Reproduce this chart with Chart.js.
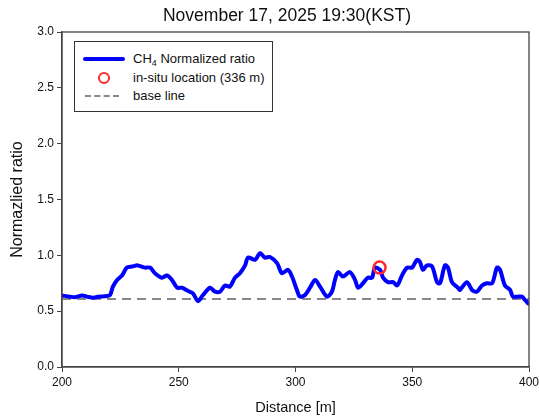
<!DOCTYPE html>
<html>
<head>
<meta charset="utf-8">
<script src="https://cdn.jsdelivr.net/npm/chart.js@4/dist/chart.umd.min.js"></script>
<style>
  body { margin: 0; background: #fff; }
  #wrap { position: relative; width: 539px; height: 418px; font-family: 'Liberation Sans', Arial, sans-serif; overflow: hidden; }
  #title {
    position: absolute; left: 0; top: 5px; width: 574px; height: 20px; line-height: 20px;
    text-align: center; font-size: 17.5px; color: #111; white-space: nowrap;
  }
  #legend {
    position: absolute; left: 74px; top: 41px; width: 197px; height: 69px;
    border: 1.5px solid #333; background: #fff; font-size: 13px; color: #111;
  }
  .row { position: absolute; left: 0; height: 18px; line-height: 18px; }
  .row .txt { position: absolute; left: 58px; white-space: nowrap; }
  .row sub { font-size: 9px; vertical-align: -3px; line-height: 0; }
  .sample { position: absolute; }
</style>
</head>
<body>
<div id="wrap">
  <canvas id="chart" width="539" height="418"></canvas>
  <div id="title">November 17, 2025 19:30(KST)</div>
  <div id="legend">
    <div class="row" style="top:8px">
      <div class="sample" style="left:8px; top:7px; width:42px; height:4px; background:#0000ff; border-radius:2px"></div>
      <span class="txt">CH<sub>4</sub> Normalized ratio</span>
    </div>
    <div class="row" style="top:27px">
      <div class="sample" style="left:23px; top:3px; width:8px; height:8px; border:2.5px solid #ff2a2a; border-radius:50%"></div>
      <span class="txt">in-situ location (336 m)</span>
    </div>
    <div class="row" style="top:45px">
      <div class="sample" style="left:10px; top:8px; width:34px; height:0; border-top:2px dashed #888"></div>
      <span class="txt">base line</span>
    </div>
  </div>
</div>
<script>
// distance along the path [m]
const distance = [
  200, 203.4, 205.6, 208.6, 210.7, 213.3, 215.4, 219.3, 220.6, 221.8,
  223.6, 225.7, 227.8, 230.0, 232.5, 235.5, 237.7, 239.8, 242.8, 245.0,
  247.1, 249.3, 251.4, 254.0, 256.1, 258.2, 260.4, 263.4, 265.5, 267.7,
  269.8, 271.9, 274.1, 276.2, 278.4, 279.7, 282.7, 284.8, 286.9, 289.1,
  292.1, 294.2, 296.8, 298.5, 300.6, 301.9, 304.1, 306.2, 308.4, 310.5,
  313.5, 315.6, 316.9, 318.2, 320.3, 323.3, 325.5, 326.8, 328.9, 331.0,
  332.8, 334.0, 336.2, 337.5, 339.6, 341.8, 343.5, 345.6, 347.8, 349.9,
  352.0, 353.3, 354.6, 356.3, 358.5, 360.6, 361.9, 364.0, 365.3, 367.0,
  369.6, 370.4, 373.4, 375.6, 377.7, 379.9, 382.0, 384.2, 386.3, 387.6,
  389.7, 391.9, 393.1, 394.9, 397.0, 398.3, 399.6
];
// CH4 normalized ratio
const ratio = [
  0.64, 0.63, 0.625, 0.64, 0.63, 0.62, 0.63, 0.635, 0.645, 0.72,
  0.78, 0.82, 0.89, 0.90, 0.91, 0.89, 0.89, 0.84, 0.80, 0.82,
  0.78, 0.71, 0.71, 0.68, 0.66, 0.59, 0.645, 0.71, 0.675, 0.675,
  0.73, 0.72, 0.80, 0.84, 0.91, 0.98, 0.96, 1.02, 0.98, 0.985,
  0.93, 0.84, 0.87, 0.81, 0.69, 0.63, 0.645, 0.71, 0.78, 0.72,
  0.63, 0.675, 0.78, 0.85, 0.81, 0.85, 0.78, 0.71, 0.75, 0.80,
  0.80, 0.89, 0.87, 0.80, 0.76, 0.76, 0.73, 0.82, 0.89, 0.89,
  0.96, 0.94, 0.87, 0.91, 0.90, 0.76, 0.75, 0.91, 0.89, 0.76,
  0.71, 0.69, 0.76, 0.69, 0.675, 0.73, 0.75, 0.75, 0.89, 0.87,
  0.73, 0.69, 0.63, 0.63, 0.63, 0.60, 0.57
];
const baseX = [200, 400];
const baseValue = 0.61;
const insituX = [336];
const insituY = [0.89];
const yTicks = [0, 0.5, 1.0, 1.5, 2.0, 2.5, 3.0];
const xTicks = [200, 250, 300, 350, 400];

const FONT = "'Liberation Sans', Arial, sans-serif";

// box around the plot area
const frame = {
  id: 'frame',
  afterDraw(chart) {
    const { ctx, chartArea: a } = chart;
    ctx.save();
    ctx.strokeStyle = '#444';
    ctx.lineWidth = 1.3;
    ctx.strokeRect(a.left, a.top, a.right - a.left, a.bottom - a.top);
    ctx.restore();
  }
};

new Chart(document.getElementById('chart'), {
  type: 'line',
  data: {
    datasets: [
      {
        label: 'in-situ location (336 m)',
        data: insituX.map((x, i) => ({ x, y: insituY[i] })),
        showLine: false,
        pointRadius: 6,
        pointBorderWidth: 2.5,
        pointBorderColor: '#ff2a2a',
        pointBackgroundColor: 'rgba(0,0,0,0)',
        order: 0
      },
      {
        label: 'CH4 Normalized ratio',
        data: distance.map((x, i) => ({ x, y: ratio[i] })),
        borderColor: '#0000ff',
        borderWidth: 4,
        pointRadius: 0,
        tension: 0.3,
        borderCapStyle: 'round',
        borderJoinStyle: 'round',
        order: 1
      },
      {
        label: 'base line',
        data: baseX.map(x => ({ x, y: baseValue })),
        borderColor: '#888',
        borderWidth: 2,
        borderDash: [9, 6],
        pointRadius: 0,
        order: 2
      }
    ]
  },
  options: {
    responsive: false,
    animation: false,
    devicePixelRatio: 1,
    layout: { padding: { left: 0, right: 0, top: 32, bottom: 0 } },
    plugins: {
      legend: { display: false },
      tooltip: { enabled: false },
      title: { display: false }
    },
    scales: {
      x: {
        type: 'linear',
        min: 200,
        max: 400,
        afterBuildTicks: s => { s.ticks = xTicks.map(v => ({ value: v })); },
        afterFit: s => { s.height = 51; s.paddingRight = 10; },
        border: { color: '#444', width: 1.3 },
        grid: { drawOnChartArea: false, tickLength: 5, color: '#444' },
        ticks: { color: '#111', padding: 3, font: { family: FONT, size: 12 } },
        title: {
          display: true,
          text: 'Distance [m]',
          color: '#111',
          font: { family: FONT, size: 14.5 },
          padding: { top: 0, bottom: 1 }
        }
      },
      y: {
        min: 0,
        max: 3,
        afterBuildTicks: s => { s.ticks = yTicks.map(v => ({ value: v })); },
        afterFit: s => { s.width = 62; },
        border: { color: '#444', width: 1.3 },
        grid: { drawOnChartArea: false, tickLength: 5, color: '#444' },
        ticks: { color: '#111', padding: 3, font: { family: FONT, size: 12 }, callback: v => v.toFixed(1) },
        title: {
          display: true,
          text: 'Normazlied ratio',
          color: '#111',
          font: { family: FONT, size: 16 },
          padding: { top: 8, bottom: 0 }
        }
      }
    }
  },
  plugins: [frame]
});
</script>
</body>
</html>
